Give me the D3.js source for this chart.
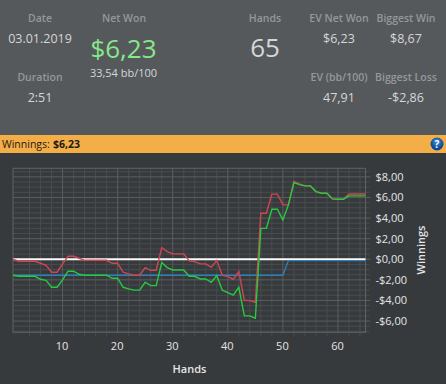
<!DOCTYPE html>
<html>
<head>
<meta charset="utf-8">
<script src="https://cdn.jsdelivr.net/npm/d3@7"></script>
<style>
html, body { margin: 0; padding: 0; background: #373a3d; overflow: hidden; }
text { font-family: "Open Sans", sans-serif; }
</style>
</head>
<body>
<div id="chart"></div>
<script>
const hands = d3.range(1, 66);

const netWon = [0, -0.19, -0.19, -0.19, -0.19, -0.39, -0.58, -1.26, -1.26, -0.45,
    0.29, 0.29, 0.1, -0.1, -0.1, -0.1, -0.1, -0.1, -0.39, -0.39,
    -1.26, -1.42, -1.55, -1.55, -0.81, -1.07, -1.07, 1.13, 0.74, 0.52,
    0.52, 0.52, -0.16, -0.23, -0.45, -0.45, -0.78, -0.13, -1.55, -1.68,
    -1.94, -1.19, -3.98, -4.01, -4.17, 4.47, 4.47, 6.32, 6.32, 5.28,
    5.28, 7.54, 7.31, 7.12, 7.12, 6.57, 6.41, 6.41, 5.86, 5.82,
    5.82, 6.34, 6.34, 6.34, 6.34];

const evWon = [-1.55, -1.65, -1.65, -1.65, -1.65, -1.94, -2.04, -2.72, -2.72, -2.0,
    -1.16, -1.16, -1.46, -1.55, -1.55, -1.55, -1.55, -1.55, -1.85, -1.85,
    -2.72, -2.88, -3.0, -3.0, -2.23, -2.56, -2.56, -0.32, -0.81, -1.04,
    -1.04, -1.04, -1.65, -1.65, -1.91, -1.91, -2.23, -1.59, -3.0, -3.23,
    -3.49, -2.72, -5.5, -5.5, -5.73, 3.0, 3.0, 4.85, 4.85, 3.82,
    5.28, 7.44, 7.25, 7.12, 7.12, 6.57, 6.41, 6.41, 5.86, 5.82,
    5.82, 6.15, 6.15, 6.15, 6.15];

const showdown = [-1.55, -1.55, -1.55, -1.55, -1.55, -1.55, -1.55, -1.55, -1.55, -1.55,
    -1.55, -1.55, -1.55, -1.55, -1.55, -1.55, -1.55, -1.55, -1.55, -1.55,
    -1.55, -1.55, -1.55, -1.55, -1.55, -1.55, -1.55, -1.55, -1.55, -1.55,
    -1.55, -1.55, -1.55, -1.55, -1.55, -1.55, -1.55, -1.55, -1.55, -1.55,
    -1.55, -1.55, -1.55, -1.55, -1.55, -1.55, -1.55, -1.55, -1.55, -1.55,
    -0.13, -0.13, -0.13, -0.13, -0.13, -0.13, -0.13, -0.13, -0.13, -0.13,
    -0.13, -0.13, -0.13, -0.13, -0.13];

const xTicks = [10, 20, 30, 40, 50, 60];
const xMinor = [4, 6, 8, 12, 14, 16, 18, 22, 24, 26, 28, 32, 34, 36, 38, 42, 44, 46, 48, 52, 54, 56, 58, 62, 64];
const yTicks = [-6, -4, -2, 0, 2, 4, 6, 8];
const yMinor = d3.range(-7, 9, 0.5).filter(v => v % 2 !== 0);

const statLabels = ["Date", "Duration", "EV Net Won", "EV (bb/100)", "Biggest Win", "Biggest Loss"];
const statValues = ["03.01.2019", "2:51", "$6,23", "47,91", "$8,67", "-$2,86"];

const width = 446, height = 384;
const plotLeft = 13, plotRight = 365.5, plotTop = 168.3, plotBottom = 332.3;
const statX = [40, 40, 339, 339, 406, 406];
const statLabelY = [22, 81, 22, 81, 22, 81];
const statValueY = [43, 102, 43, 102, 43, 102];

const svg = d3.select("#chart").append("svg")
    .attr("width", width)
    .attr("height", height)
    .style("display", "block");

const defs = svg.append("defs");
const btn = defs.append("radialGradient").attr("id", "btn").attr("cy", 0.35);
btn.append("stop").attr("offset", 0).attr("stop-color", "#3f8fe0");
btn.append("stop").attr("offset", 1).attr("stop-color", "#0b4a94");

svg.append("rect").attr("width", width).attr("height", 135).attr("fill", "#56595c");
svg.append("rect").attr("y", 135).attr("width", width).attr("height", 18).attr("fill", "#f4ae47");

// top stats
const stats = svg.append("g").attr("text-anchor", "middle");
statLabels.forEach((s, i) => {
    stats.append("text").attr("x", statX[i]).attr("y", statLabelY[i]).attr("font-size", 10.5).attr("font-weight", 600)
        .attr("fill", "#95989a").text(s);
    stats.append("text").attr("x", statX[i]).attr("y", statValueY[i]).attr("font-size", 12.5)
        .attr("fill", "#d4d6d7").text(statValues[i]);
});
stats.append("text").attr("x", 124).attr("y", 22).attr("font-size", 10.5).attr("font-weight", 600).attr("fill", "#95989a").text("Net Won");
stats.append("text").attr("x", 123.5).attr("y", 58).attr("font-size", 26).attr("fill", "#86e88a").text("$6,23");
stats.append("text").attr("x", 123.5).attr("y", 77).attr("font-size", 11).attr("fill", "#d4d6d7").text("33,54 bb/100");
stats.append("text").attr("x", 265).attr("y", 22).attr("font-size", 10.5).attr("font-weight", 600).attr("fill", "#95989a").text("Hands");
stats.append("text").attr("x", 265).attr("y", 57).attr("font-size", 26).attr("fill", "#d4d6d7").text("65");

// orange bar
svg.append("text").attr("x", 2).attr("y", 148).attr("font-size", 10.5).attr("fill", "#1d1a12").text("Winnings:");
svg.append("text").attr("x", 53).attr("y", 148).attr("font-size", 10.5).attr("font-weight", 700).attr("fill", "#1d1a12").text("$6,23");
svg.append("circle").attr("cx", 437).attr("cy", 144).attr("r", 6.5).attr("fill", "url(#btn)");
svg.append("text").attr("x", 437).attr("y", 148).attr("text-anchor", "middle").attr("font-size", 10)
    .attr("font-weight", 700).attr("fill", "#fff").text("?");

const x = d3.scaleLinear().domain([1, 65]).range([plotLeft, plotRight]);
const y = d3.scaleLinear().domain([-7.09, 8.83]).range([plotBottom, plotTop]);

// grid, minor first
const grid = svg.append("g").attr("fill", "none");
grid.selectAll(".ym").data(yMinor).enter().append("line")
    .attr("x1", plotLeft).attr("x2", plotRight + 4)
    .attr("y1", d => y(d)).attr("y2", d => y(d))
    .attr("stroke", "#494c4f");
grid.selectAll(".xm").data(xMinor).enter().append("line")
    .attr("x1", d => x(d)).attr("x2", d => x(d))
    .attr("y1", plotTop).attr("y2", plotBottom + 4)
    .attr("stroke", "#494c4f");
grid.selectAll(".yM").data(yTicks).enter().append("line")
    .attr("x1", plotLeft).attr("x2", plotRight + 5)
    .attr("y1", d => y(d)).attr("y2", d => y(d))
    .attr("stroke", "#5b5e61");
grid.selectAll(".xM").data(xTicks).enter().append("line")
    .attr("x1", d => x(d)).attr("x2", d => x(d))
    .attr("y1", plotTop).attr("y2", plotBottom)
    .attr("stroke", "#5b5e61");
grid.append("rect")
    .attr("x", plotLeft).attr("y", plotTop)
    .attr("width", plotRight - plotLeft).attr("height", plotBottom - plotTop)
    .attr("stroke", "#5f6265");

// axes
const xAxis = d3.axisBottom(x).tickValues(xTicks).tickSize(0).tickPadding(10);
const yAxis = d3.axisRight(y).tickValues(yTicks).tickSize(0).tickPadding(10)
    .tickFormat(d => (d < 0 ? "-$" : "$") + Math.abs(d) + ",00");

const gx = svg.append("g").attr("transform", `translate(0,${plotBottom})`).call(xAxis);
const gy = svg.append("g").attr("transform", `translate(${plotRight},0)`).call(yAxis);
[gx, gy].forEach(g => {
    g.select(".domain").remove();
    g.selectAll("text").attr("fill", "#e4e5e6").attr("font-size", 11).style("font-family", '"Open Sans", sans-serif');
});
gx.selectAll("text").attr("dx", -1);

svg.append("text").attr("x", 189.5).attr("y", 373).attr("text-anchor", "middle")
    .attr("font-size", 11).attr("font-weight", 600).attr("fill", "#e4e5e6").text("Hands");
svg.append("text").attr("transform", "translate(425,250) rotate(-90)").attr("text-anchor", "middle")
    .attr("font-size", 11).attr("font-weight", 600).attr("fill", "#e4e5e6").text("Winnings");

// series
const line = d3.line().x((d, i) => x(hands[i])).y(d => y(d));

svg.append("line")
    .attr("x1", plotLeft).attr("x2", plotRight)
    .attr("y1", y(0)).attr("y2", y(0))
    .attr("stroke", "#fafafa").attr("stroke-width", 2);

const seriesValues = [showdown, netWon, evWon];
const seriesColors = ["#2f7fb9", "#cf4650", "#27c93f"];
svg.selectAll(".series").data(seriesValues).enter().append("path")
    .attr("d", d => line(d))
    .attr("fill", "none")
    .attr("stroke", (d, i) => seriesColors[i])
    .attr("stroke-width", 1.4);
</script>
</body>
</html>
